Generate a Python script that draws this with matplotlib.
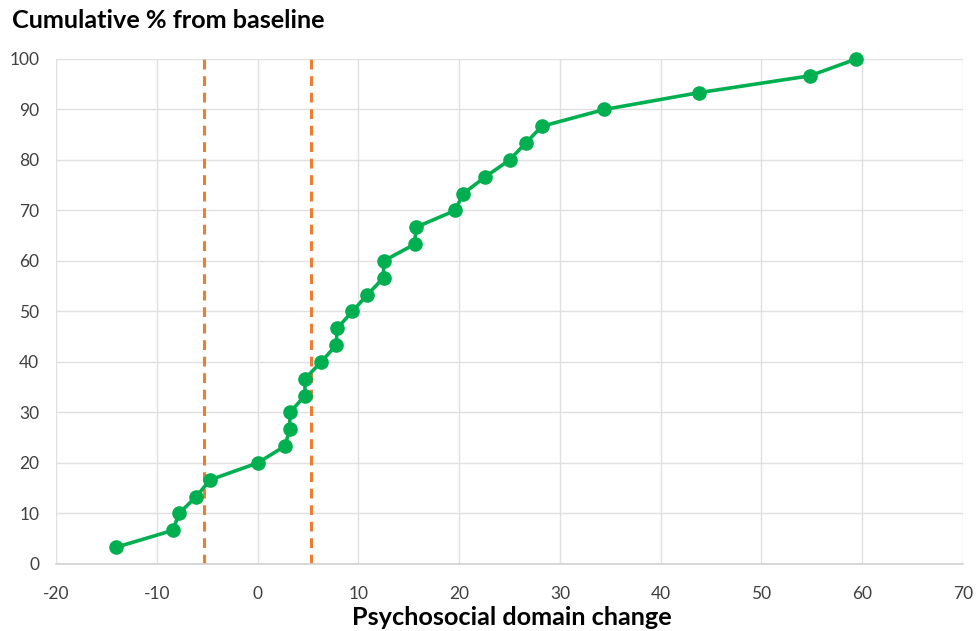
import matplotlib
matplotlib.use("Agg")
import matplotlib.pyplot as plt
import numpy as np

# Psychosocial domain change per participant, sorted ascending
change = [-14.0, -8.4, -7.8, -6.1, -4.7, 0.0, 2.7, 3.2, 3.2, 4.7,
          4.7, 6.3, 7.8, 7.9, 9.4, 10.9, 12.5, 12.5, 15.6, 15.7,
          19.6, 20.4, 22.6, 25.0, 26.6, 28.2, 34.4, 43.8, 54.8, 59.4]
# Cumulative percentage of participants
cumulative = [100.0 * (i + 1) / len(change) for i in range(len(change))]
# Reference thresholds
thresholds = [-5.3, 5.3]

x_ticks = list(range(-20, 71, 10))
y_ticks = list(range(0, 101, 10))

plt.rcParams['font.family'] = ['Lato', 'DejaVu Sans']
plt.rcParams['axes.unicode_minus'] = False

fig = plt.figure(figsize=(9.76, 6.31), dpi=100)
ax = fig.add_axes([0.0574, 0.1062, 0.9293, 0.8003])

ax.set_xlim(-20, 70)
ax.set_ylim(0, 100)
ax.set_xticks(x_ticks)
ax.set_yticks(y_ticks)
ax.grid(True, color='#e0e0e0', linewidth=1.0)
ax.set_axisbelow(True)
for s in ['top', 'right', 'left']:
    ax.spines[s].set_visible(False)
ax.spines['bottom'].set_color('#d0d0d0')
ax.spines['bottom'].set_linewidth(1.2)
ax.tick_params(length=0, labelsize=12.5, colors='#404040', pad=12)
ax.tick_params(axis='x', pad=16)

for t in thresholds:
    ax.plot([t, t], [0, 100], color='#ED7D31', linewidth=2.2,
            linestyle=(0, (3.2, 2.2)), zorder=2)

ax.plot(change, cumulative, color='#00B050', linewidth=2.6, marker='o',
        markersize=9.5, zorder=3, clip_on=False)

fig.text(0.012, 0.968, 'Cumulative % from baseline', fontsize=18.2,
         fontweight='bold', ha='left', va='center', color='black')
fig.text(0.524, 0.022, 'Psychosocial domain change', fontsize=18.2,
         fontweight='bold', ha='center', va='center', color='black')

fig.savefig('out.png', dpi=100)
